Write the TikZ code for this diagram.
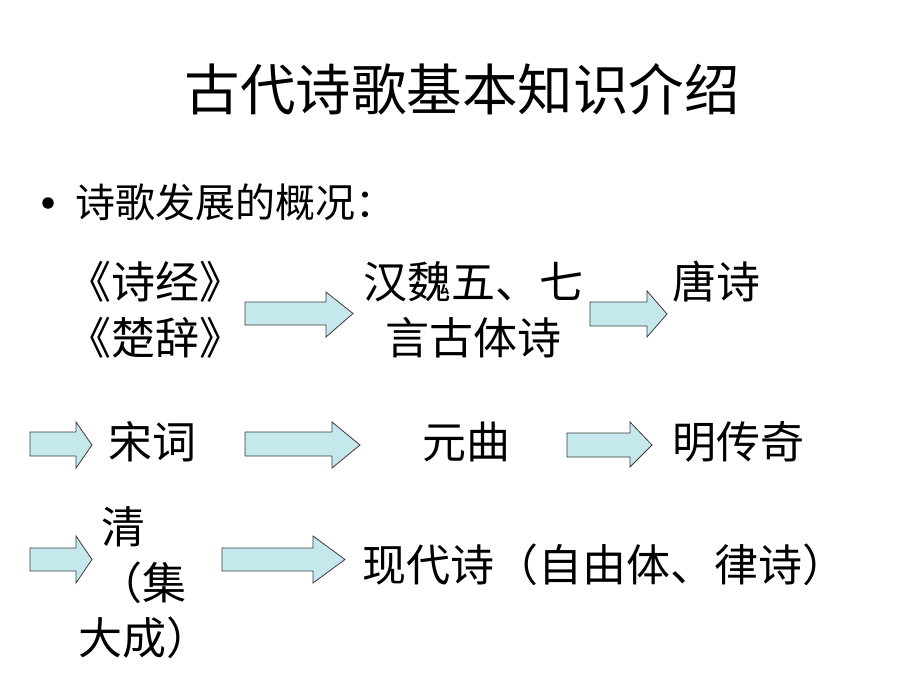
\documentclass[tikz,border=0pt]{standalone}
\usepackage{fontspec}
\setmainfont{Noto Sans CJK SC}
\begin{document}
\begin{tikzpicture}[x=1pt,y=-1pt,
  barrow/.style={draw={rgb,255:red,60;green,60;blue,60}, line width=0.8pt, fill={rgb,255:red,196;green,232;blue,236}},
  body/.style={inner sep=0pt, font=\fontsize{44}{56}\selectfont, align=center},
  ttl/.style={inner sep=0pt, font=\fontsize{55.5}{60}\selectfont},
  bul/.style={inner sep=0pt, font=\fontsize{40}{48}\selectfont, anchor=west}]
\useasboundingbox[fill=white] (0,0) rectangle (920,690);
% title
\node[ttl] (title) at (462,89) {古代诗歌基本知识介绍};
% bullet
\node[circle, fill=black, inner sep=0pt, minimum size=11.5pt] (bullet) at (48,203) {};
\node[bul] (sub) at (75,202) {诗歌发展的概况：};
% row 1
\node[body] (shi) at (155,310) {《诗经》\\《楚辞》};
\node[body] (han) at (473,310) {汉魏五、七\\言古体诗};
\node[body, anchor=west] (tang) at (672,282) {唐诗};
% row 2
\node[body, anchor=west] (song) at (108,442) {宋词};
\node[body, anchor=west] (yuan) at (422,442) {元曲};
\node[body, anchor=west] (ming) at (672,442) {明传奇};
% row 3
\node[body, anchor=west] (qing1) at (101,527) {清};
\node[body, anchor=west] (qing2) at (98,583) {（集};
\node[body, anchor=west] (qing3) at (78,638) {大成）};
\node[body, anchor=west] (xian) at (362,565) {现代诗（自由体、律诗）};
% block arrows
\draw[barrow] (245,302) -- (326,302) -- (326,292) -- (353,313.5) -- (326,337) -- (326,325) -- (245,325) -- cycle;
\draw[barrow] (590,302) -- (647,302) -- (647,291) -- (667,314) -- (647,337) -- (647,326) -- (590,326) -- cycle;
\draw[barrow] (30,432) -- (76,432) -- (76,422) -- (92,445) -- (76,468) -- (76,456) -- (30,456) -- cycle;
\draw[barrow] (245,432) -- (332,432) -- (332,422) -- (360,445) -- (332,468) -- (332,456) -- (245,456) -- cycle;
\draw[barrow] (567,433) -- (630,433) -- (630,422) -- (652,445) -- (630,467) -- (630,457) -- (567,457) -- cycle;
\draw[barrow] (30,548) -- (76,548) -- (76,536) -- (92,559.5) -- (76,583) -- (76,571) -- (30,571) -- cycle;
\draw[barrow] (222,548) -- (313,548) -- (313,536) -- (345,559.5) -- (313,583) -- (313,571) -- (222,571) -- cycle;
\end{tikzpicture}
\end{document}
